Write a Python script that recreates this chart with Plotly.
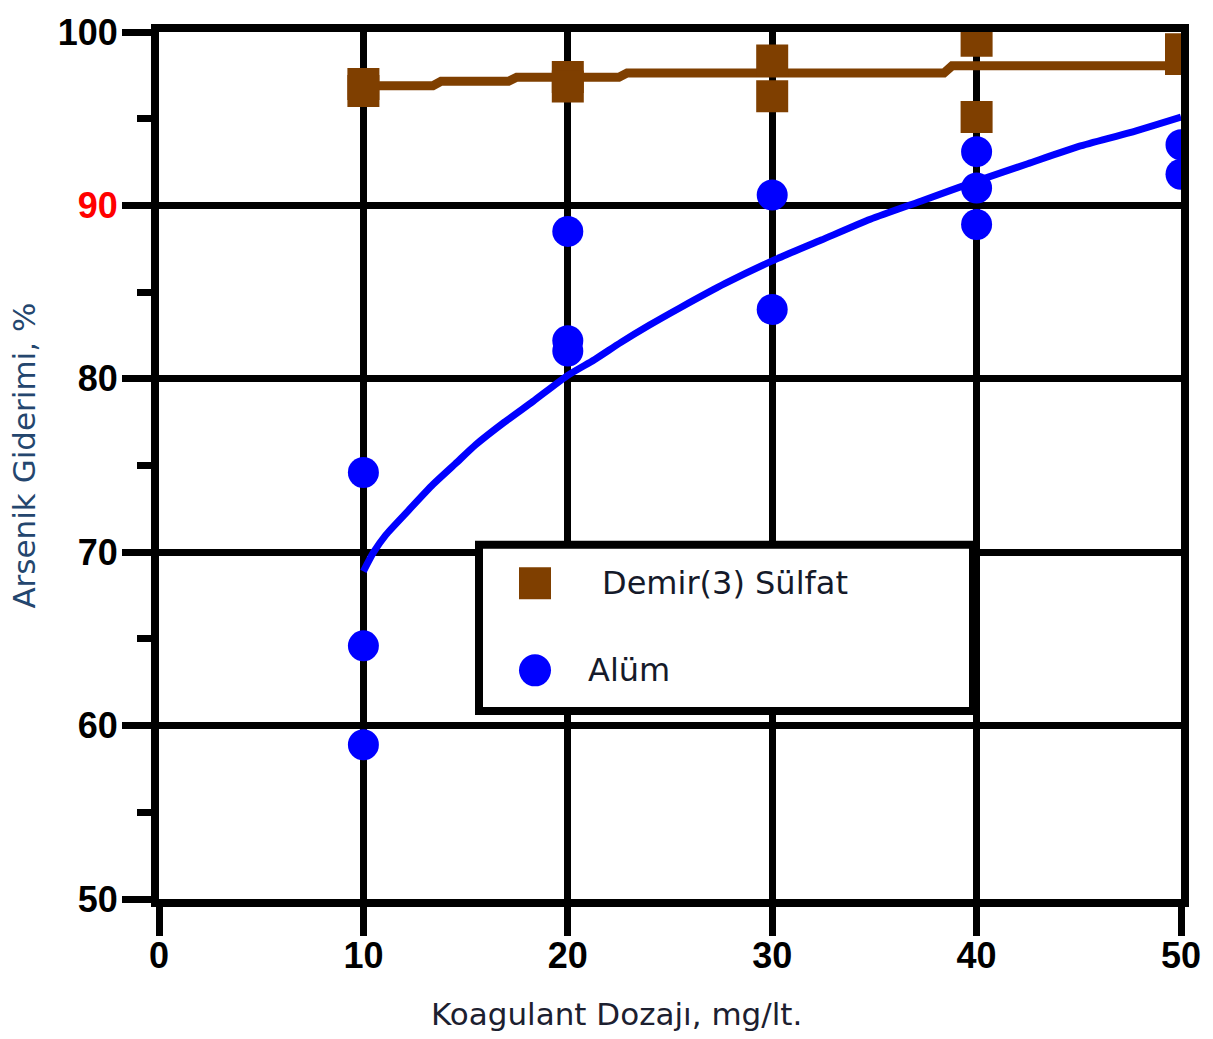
import plotly.graph_objects as go

# ---- data ----
fe_dose = [10, 10, 20, 20, 30, 30, 40, 40, 50, 50]
fe_removal = [97.0, 96.6, 97.4, 96.85, 98.35, 96.3, 99.5, 95.1, 99.0, 98.45]

alum_dose = [10, 10, 10, 20, 20, 20, 30, 30, 40, 40, 40, 50, 50]
alum_removal = [74.6, 64.6, 58.9, 88.5, 82.2, 81.6, 90.6, 84.0, 93.1, 91.0, 88.9, 93.5, 91.8]

alum_fit_x = [10, 10.5, 11.1, 12.2, 13.4, 14.5, 15.5, 16.9, 18.3, 20, 21.3, 22.6, 24, 25.5,
              27.7, 30, 32.4, 34.8, 37.4, 40, 42.5, 45, 47.5, 50]
alum_fit_y = [68.9, 70.0, 71.0, 72.4, 73.9, 75.1, 76.2, 77.5, 78.7, 80.2, 81.1, 82.1, 83.1, 84.1,
              85.5, 86.8, 88.0, 89.2, 90.3, 91.4, 92.4, 93.4, 94.2, 95.1]

fe_fit_x = [10, 13.4, 13.8, 17.1, 17.5, 22.5, 22.9, 38.4, 38.8, 50]
fe_fit_y = [96.9, 96.9, 97.16, 97.16, 97.39, 97.39, 97.63, 97.63, 98.05, 98.05]

x_ticks = [0, 10, 20, 30, 40, 50]
y_ticks = [50, 60, 70, 80, 90, 100]
y_ticktext = ["50", "60", "70", "80", '<span style="color:#ff0000">90</span>', "100"]

series_names = ["Demir(3) Sülfat", "Alüm"]
x_title = "Koagulant Dozajı, mg/lt."
y_title = "Arsenik Giderimi, %"

BROWN = "#7f3f00"
BLUE = "#0000ff"

fig = go.Figure()
fig.add_trace(go.Scatter(x=alum_fit_x, y=alum_fit_y, mode="lines", line_shape="spline",
                         line=dict(color=BLUE, width=7, smoothing=0.6), showlegend=False, hoverinfo="skip"))
fig.add_trace(go.Scatter(x=alum_dose, y=alum_removal, mode="markers", name=series_names[1],
                         marker=dict(symbol="circle", size=31, color=BLUE), showlegend=False))
fig.add_trace(go.Scatter(x=fe_fit_x, y=fe_fit_y, mode="lines",
                         line=dict(color=BROWN, width=9), showlegend=False, hoverinfo="skip"))
fig.add_trace(go.Scatter(x=fe_dose, y=fe_removal, mode="markers", name=series_names[0],
                         marker=dict(symbol="square", size=32, color=BROWN), showlegend=False))

tickfont = dict(family="Liberation Sans, Arial, sans-serif", size=36, color="black", weight="bold")

fig.update_xaxes(range=[0, 50], tickvals=x_ticks, ticktext=[str(v) for v in x_ticks],
                 showgrid=True, gridcolor="black", gridwidth=7, zeroline=False,
                 showline=True, linecolor="black", linewidth=8, mirror=True,
                 ticks="outside", ticklen=29, tickwidth=7, tickcolor="black",
                 tickfont=tickfont, ticklabelstandoff=-11, ticklabeloverflow="allow")
fig.update_yaxes(range=[50, 100], tickvals=y_ticks, ticktext=y_ticktext,
                 showgrid=True, gridcolor="black", gridwidth=7, zeroline=False,
                 showline=True, linecolor="black", linewidth=8, mirror=True,
                 ticks="outside", ticklen=29, tickwidth=7, tickcolor="black",
                 tickfont=tickfont, ticklabelstandoff=-3, ticklabeloverflow="allow",
                 minor=dict(tick0=50, dtick=5, ticks="outside", ticklen=14, tickwidth=7,
                            tickcolor="black", showgrid=False))

W, H = 1213, 1039
L, R, T, B = 159, 1181, 23, 899
fig.update_layout(width=W, height=H, plot_bgcolor="white", paper_bgcolor="white",
                  margin=dict(l=L, r=W - R, t=T, b=H - B), showlegend=False,
                  font=dict(family="DejaVu Sans, Verdana, sans-serif"))

def px(xp):
    return (xp - L) / (R - L)

def py(yp):
    return (B - yp) / (B - T)

# axis titles
fig.add_annotation(text=x_title, xref="paper", yref="paper", x=px(616), y=py(1015),
                   xanchor="center", yanchor="middle", showarrow=False,
                   font=dict(size=31, color="#1c2030"))
fig.add_annotation(text=y_title, xref="paper", yref="paper", x=px(24), y=py(451),
                   xanchor="center", yanchor="middle", showarrow=False, textangle=-90,
                   font=dict(size=31, color="#24466e"))

# custom legend box
fig.add_shape(type="rect", xref="paper", yref="paper", x0=px(479), x1=px(973),
              y0=py(709), y1=py(541), line=dict(color="black", width=8),
              fillcolor="white", layer="above")
fig.add_shape(type="rect", xref="paper", yref="paper", xsizemode="pixel", ysizemode="pixel",
              xanchor=px(535), yanchor=py(580), x0=-16, x1=16, y0=-16, y1=16,
              line=dict(width=0), fillcolor=BROWN, layer="above")
fig.add_shape(type="circle", xref="paper", yref="paper", xsizemode="pixel", ysizemode="pixel",
              xanchor=px(535), yanchor=py(668), x0=-16, x1=16, y0=-16, y1=16,
              line=dict(width=0), fillcolor=BLUE, layer="above")
fig.add_annotation(text=series_names[0], xref="paper", yref="paper", x=px(600), y=py(580),
                   xanchor="left", yanchor="middle", showarrow=False,
                   font=dict(size=32, color="#151a2a"))
fig.add_annotation(text=series_names[1], xref="paper", yref="paper", x=px(586), y=py(668),
                   xanchor="left", yanchor="middle", showarrow=False,
                   font=dict(size=32, color="#151a2a"))

fig.write_html("out.html", config={"displayModeBar": False},
               post_script="document.body.style.margin='0';document.body.style.overflow='hidden';")
